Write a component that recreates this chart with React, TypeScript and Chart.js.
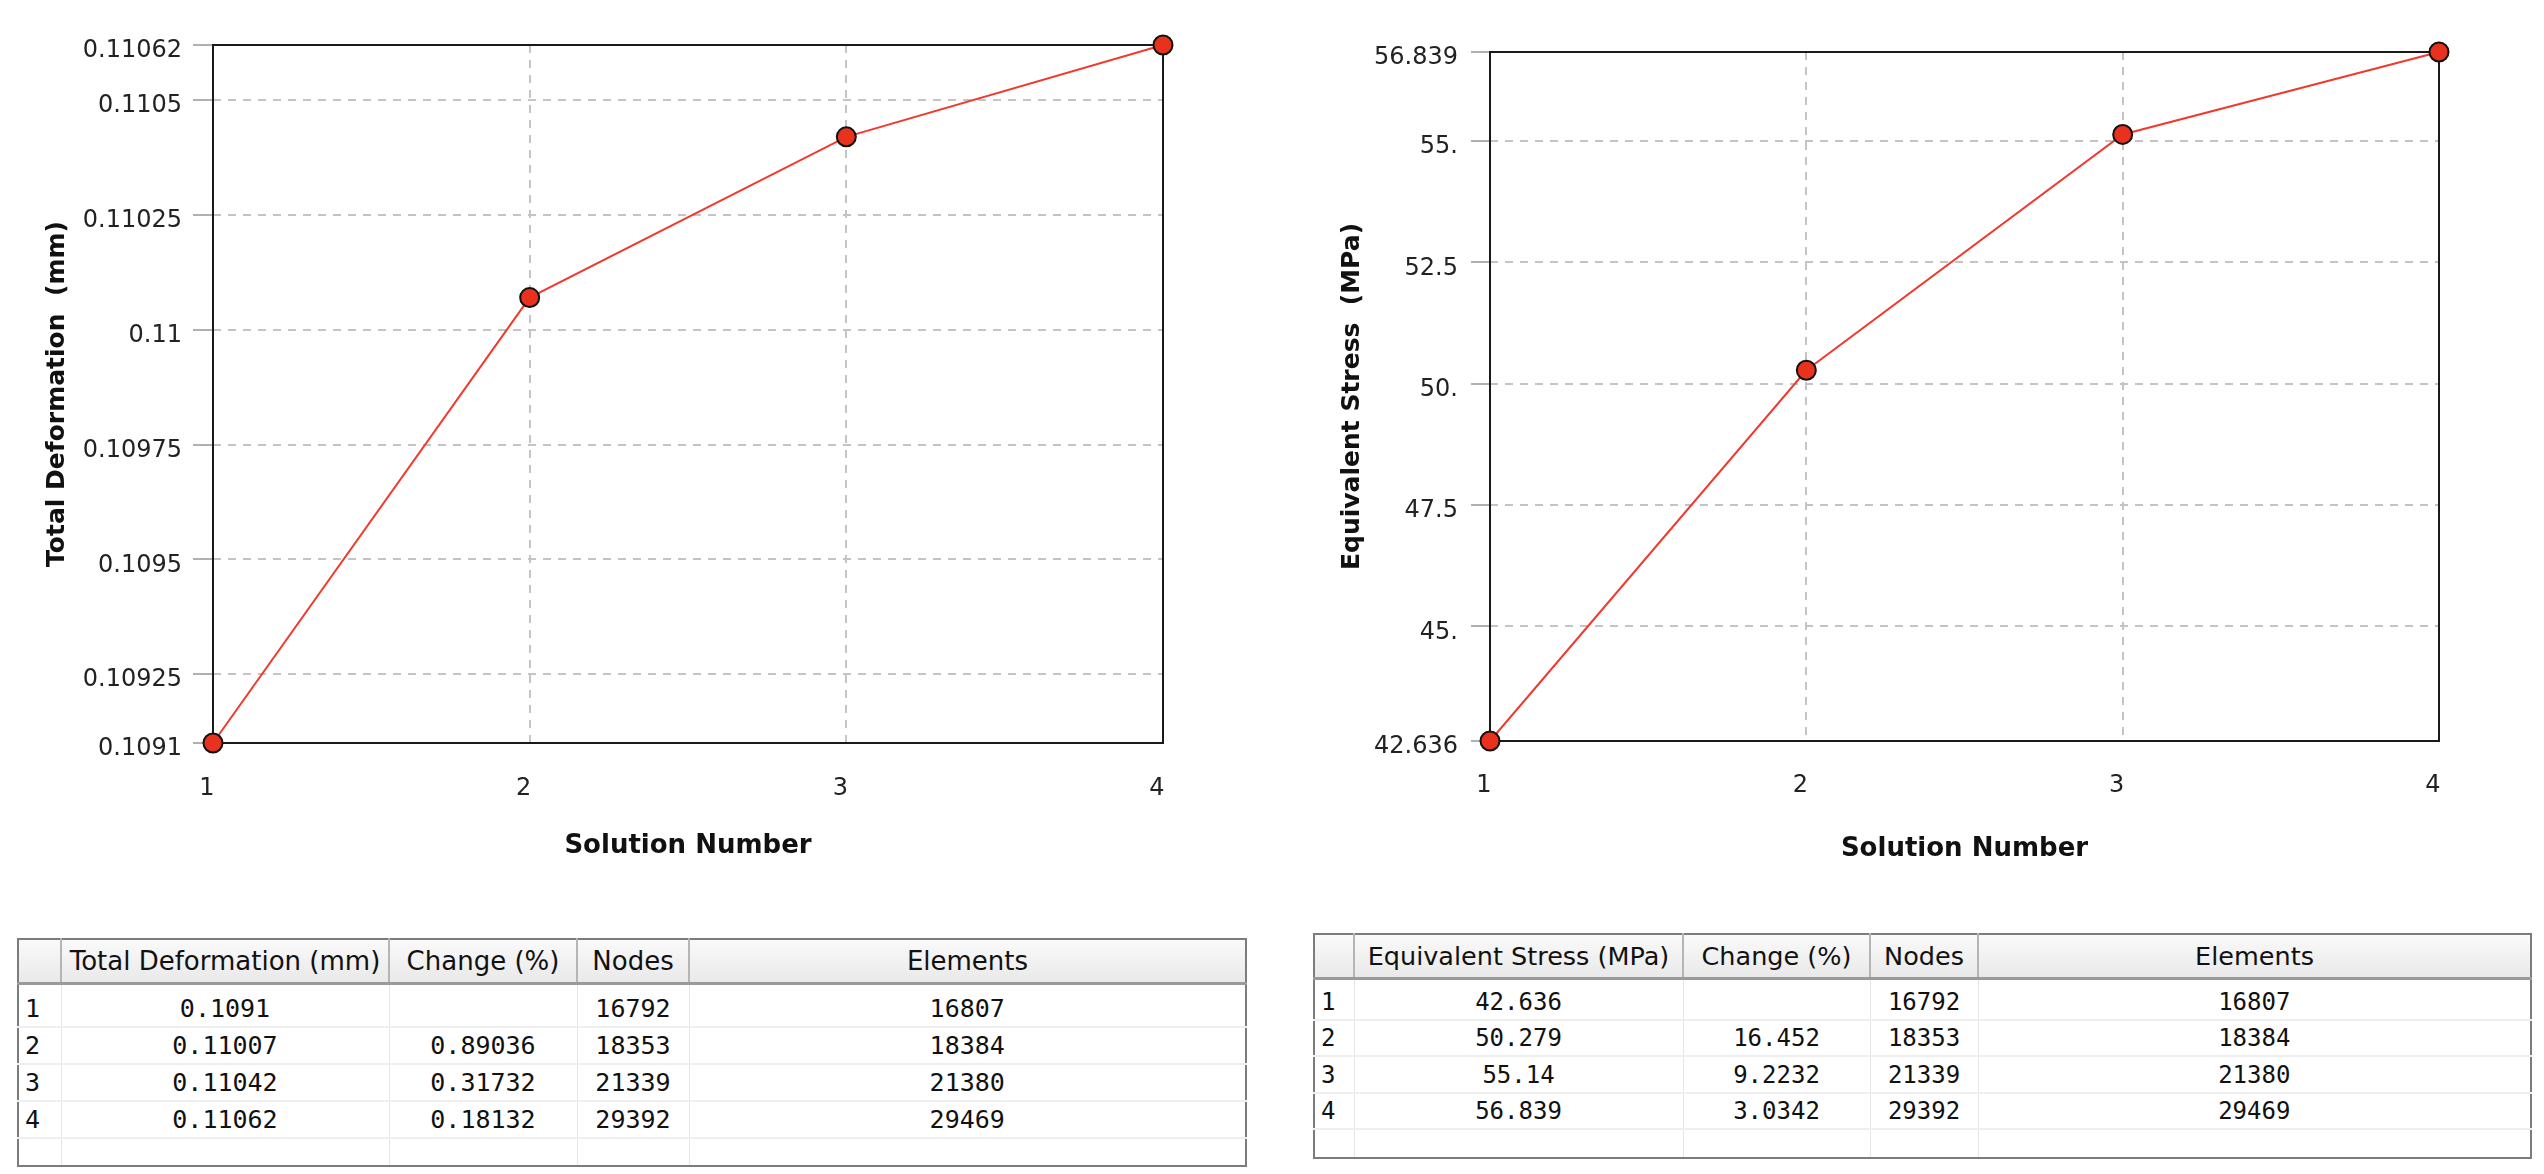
import { useEffect, useRef } from 'react';
import Chart from 'chart.js/auto';

Chart.defaults.font.family = '"DejaVu Sans", sans-serif';

const solutionNumbers = ['1', '2', '3', '4'];

const totalDeformation = [0.1091, 0.11007, 0.11042, 0.11062];
const deformationTicks = [0.1091, 0.10925, 0.1095, 0.10975, 0.11, 0.11025, 0.1105, 0.11062];
const deformationTickLabels = ['0.1091', '0.10925', '0.1095', '0.10975', '0.11', '0.11025', '0.1105', '0.11062'];

const equivalentStress = [42.636, 50.279, 55.14, 56.839];
const stressTicks = [42.636, 45, 47.5, 50, 52.5, 55, 56.839];
const stressTickLabels = ['42.636', '45.', '47.5', '50.', '52.5', '55.', '56.839'];

const deformationText = ['0.1091', '0.11007', '0.11042', '0.11062'];
const deformationChange = ['', '0.89036', '0.31732', '0.18132'];
const stressText = ['42.636', '50.279', '55.14', '56.839'];
const stressChange = ['', '16.452', '9.2232', '3.0342'];
const nodeCounts = ['16792', '18353', '21339', '29392'];
const elementCounts = ['16807', '18384', '21380', '29469'];

// black box around the plot area, drawn under the markers
const framePlugin = {
    id: 'frame',
    beforeDatasetsDraw(chart) {
        const { ctx, chartArea: a } = chart;
        ctx.save();
        ctx.strokeStyle = '#1a1a1a';
        ctx.lineWidth = 2;
        ctx.strokeRect(a.left, a.top, a.right - a.left, a.bottom - a.top);
        ctx.restore();
    }
};

type ChartProps = {
    values: number[];
    ticks: number[];
    tickLabels: string[];
    yTitle: string;
    left: number;
    pad: { top: number; right: number; bottom: number };
    yWidth: number;
    yTickLength: number;
    yTickPadding: number;
    yTitlePad: number;
    xTickPadding: number;
    xTitlePad: number;
};

const SolutionChart = (p: ChartProps) => {
    const chartRef = useRef<HTMLCanvasElement>(null);

    useEffect(() => {
        const ctx = chartRef.current.getContext('2d');
        const chart = new Chart(ctx, {
            type: 'line',
            data: {
                labels: solutionNumbers,
                datasets: [{
                    data: p.values,
                    borderColor: '#f03a2e',
                    borderWidth: 2,
                    pointStyle: 'circle',
                    pointRadius: 9.5,
                    pointBackgroundColor: '#e8321e',
                    pointBorderColor: '#111',
                    pointBorderWidth: 2,
                    clip: false,
                    tension: 0
                }]
            },
            options: {
                responsive: false,
                animation: false,
                layout: { padding: { left: 0, top: p.pad.top, right: p.pad.right, bottom: p.pad.bottom } },
                plugins: {
                    legend: { display: false },
                    tooltip: { enabled: false }
                },
                scales: {
                    x: {
                        type: 'category',
                        offset: false,
                        afterFit: (s) => { s.height = 130; },
                        ticks: { color: '#222', font: { size: 24 }, padding: p.xTickPadding, labelOffset: -6, maxRotation: 0 },
                        grid: { color: '#c4c4c4', lineWidth: 2, drawTicks: false },
                        border: { display: false, dash: [8, 7] },
                        title: {
                            display: true,
                            text: 'Solution Number',
                            color: '#111',
                            font: { size: 26, weight: 'bold' },
                            padding: { top: 0, bottom: p.xTitlePad }
                        }
                    },
                    y: {
                        type: 'linear',
                        min: p.ticks[0],
                        max: p.ticks[p.ticks.length - 1],
                        afterBuildTicks: (s) => { s.ticks = p.ticks.map(v => ({ value: v })); },
                        afterFit: (s) => { s.width = p.yWidth; },
                        ticks: {
                            color: '#222',
                            font: { size: 24 },
                            padding: p.yTickPadding,
                            labelOffset: 6,
                            callback: (_v, i) => p.tickLabels[i]
                        },
                        grid: {
                            color: '#c4c4c4',
                            lineWidth: 2,
                            tickLength: p.yTickLength,
                            tickColor: '#b0b0b0',
                            tickWidth: 2,
                            tickBorderDash: []
                        },
                        border: { display: false, dash: [8, 7] },
                        title: {
                            display: true,
                            text: p.yTitle,
                            color: '#111',
                            font: { size: 25, weight: 'bold' },
                            padding: { top: p.yTitlePad, bottom: 0 }
                        }
                    }
                }
            },
            plugins: [framePlugin]
        });

        return () => {
            chart.destroy();
        };
    }, []);

    return (
        <canvas
            ref={chartRef}
            width={1272}
            height={900}
            style={{ position: 'absolute', left: p.left, top: 0, width: 1272, height: 900 }}
        />
    );
};

type TableProps = {
    left: number;
    top: number;
    widths: number[];
    heading: string;
    values: string[];
    change: string[];
    rowHeights: number[];
    headSize: number;
    bodySize: number;
};

const ResultTable = (t: TableProps) => {
    const head = {
        padding: 0,
        background: 'linear-gradient(#fafafa, #e9e9e9)',
        borderRight: '2px solid #b5b5b5',
        borderBottom: '3px solid #9a9a9a',
        fontFamily: '"DejaVu Sans", sans-serif',
        fontSize: t.headSize,
        fontWeight: 'normal' as const,
        color: '#111',
        textAlign: 'center' as const,
        whiteSpace: 'nowrap' as const,
        overflow: 'hidden'
    };
    const body = (i: number, align: 'left' | 'center') => ({
        padding: 0,
        paddingTop: i === 0 ? t.rowHeights[0] - t.rowHeights[1] : 0,
        paddingLeft: align === 'left' ? 6 : 0,
        borderRight: '1px solid #e6e6e6',
        borderBottom: '2px solid #efefef',
        fontFamily: '"DejaVu Sans Mono", monospace',
        fontSize: t.bodySize,
        color: '#111',
        textAlign: align,
        verticalAlign: 'middle' as const,
        whiteSpace: 'nowrap' as const
    });
    const emptyCell = { padding: 0, borderRight: '1px solid #e6e6e6' };

    return (
        <table
            style={{
                position: 'absolute',
                left: t.left,
                top: t.top,
                width: t.widths.reduce((a, b) => a + b, 0),
                tableLayout: 'fixed',
                borderCollapse: 'collapse',
                border: '2px solid #7c7c7c',
                background: '#fff'
            }}
        >
            <colgroup>
                {t.widths.map((w, i) => <col key={i} style={{ width: w }} />)}
            </colgroup>
            <thead>
                <tr style={{ height: 44 }}>
                    <th style={head}></th>
                    <th style={head}>{t.heading}</th>
                    <th style={head}>Change (%)</th>
                    <th style={head}>Nodes</th>
                    <th style={{ ...head, borderRight: 'none' }}>Elements</th>
                </tr>
            </thead>
            <tbody>
                {solutionNumbers.map((n, i) => (
                    <tr key={n} style={{ height: t.rowHeights[i] }}>
                        <td style={body(i, 'left')}>{n}</td>
                        <td style={body(i, 'center')}>{t.values[i]}</td>
                        <td style={body(i, 'center')}>{t.change[i]}</td>
                        <td style={body(i, 'center')}>{nodeCounts[i]}</td>
                        <td style={{ ...body(i, 'center'), borderRight: 'none' }}>{elementCounts[i]}</td>
                    </tr>
                ))}
                <tr style={{ height: t.rowHeights[4] }}>
                    <td style={emptyCell}></td>
                    <td style={emptyCell}></td>
                    <td style={emptyCell}></td>
                    <td style={emptyCell}></td>
                    <td style={{ padding: 0 }}></td>
                </tr>
            </tbody>
        </table>
    );
};

const App = () => {
    return (
        <div style={{ position: 'absolute', left: 0, top: 0, width: 2544, height: 1174, background: '#fff', overflow: 'hidden' }}>
            <SolutionChart
                values={totalDeformation}
                ticks={deformationTicks}
                tickLabels={deformationTickLabels}
                yTitle="Total Deformation  (mm)"
                left={0}
                pad={{ top: 45, right: 109, bottom: 27 }}
                yWidth={213}
                yTickLength={20}
                yTickPadding={11}
                yTitlePad={42}
                xTickPadding={31}
                xTitlePad={11}
            />
            <SolutionChart
                values={equivalentStress}
                ticks={stressTicks}
                tickLabels={stressTickLabels}
                yTitle="Equivalent Stress  (MPa)"
                left={1272}
                pad={{ top: 52, right: 105, bottom: 29 }}
                yWidth={218}
                yTickLength={19}
                yTickPadding={13}
                yTitlePad={65}
                xTickPadding={30}
                xTitlePad={6}
            />
            <ResultTable
                left={17}
                top={938}
                widths={[43, 328, 188, 112, 557]}
                heading="Total Deformation (mm)"
                values={deformationText}
                change={deformationChange}
                rowHeights={[44, 37, 37, 37, 28]}
                headSize={26}
                bodySize={25}
            />
            <ResultTable
                left={1313}
                top={933}
                widths={[40, 329, 187, 108, 553]}
                heading="Equivalent Stress (MPa)"
                values={stressText}
                change={stressChange}
                rowHeights={[42, 36, 37, 36, 29]}
                headSize={25.5}
                bodySize={24}
            />
        </div>
    );
};

export default App;
